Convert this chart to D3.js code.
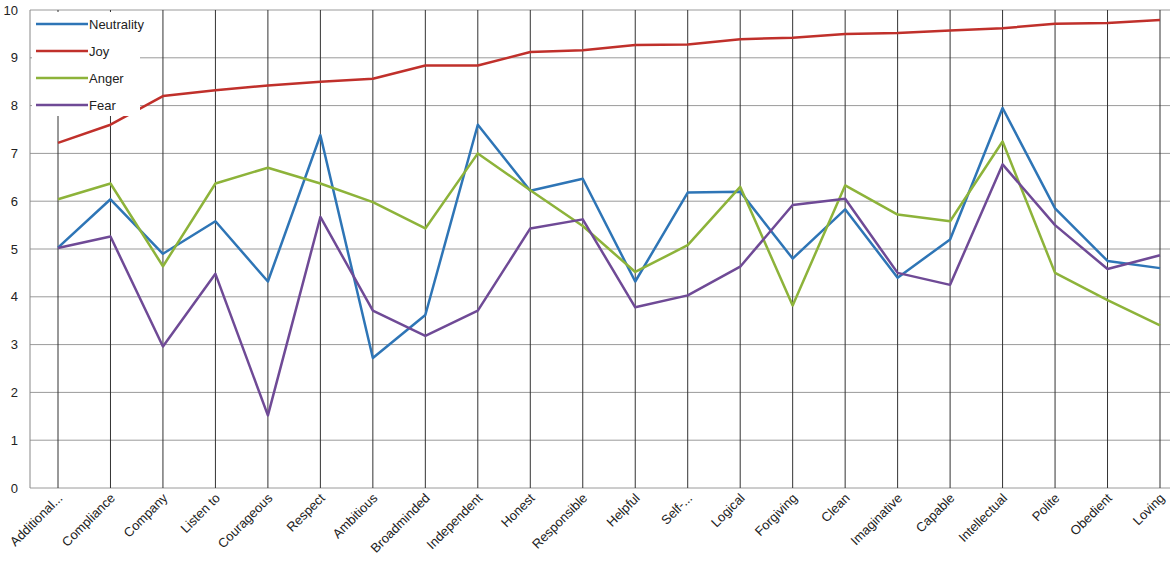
<!DOCTYPE html>
<html><head><meta charset="utf-8">
<script src="https://cdn.jsdelivr.net/npm/d3@7"></script>
<style>body{margin:0;background:#fff;font-family:"Liberation Sans",Arial,sans-serif}</style>
</head><body><svg id="chart" width="1170" height="569"></svg>
<script>
var categories = ["Additional...","Compliance","Company","Listen to","Courageous","Respect","Ambitious","Broadminded","Independent","Honest","Responsible","Helpful","Self-...","Logical","Forgiving","Clean","Imaginative","Capable","Intellectual","Polite","Obedient","Loving"];
var neutrality = [5.03,6.04,4.9,5.58,4.32,7.38,2.72,3.62,7.6,6.22,6.47,4.32,6.18,6.2,4.8,5.83,4.4,5.2,7.95,5.85,4.75,4.6];
var joy = [7.22,7.6,8.2,8.32,8.42,8.5,8.56,8.84,8.84,9.12,9.16,9.27,9.28,9.39,9.42,9.5,9.52,9.57,9.62,9.71,9.73,9.79];
var anger = [6.04,6.37,4.64,6.37,6.7,6.37,5.98,5.43,7.0,6.23,5.48,4.52,5.08,6.3,3.82,6.33,5.72,5.58,7.25,4.5,3.93,3.4];
var fear = [5.02,5.26,2.96,4.48,1.52,5.67,3.71,3.18,3.71,5.43,5.62,3.78,4.03,4.63,5.92,6.05,4.5,4.25,6.77,5.5,4.58,4.87];
var yTicks = [0,1,2,3,4,5,6,7,8,9,10];

var series = [
  {name:"Neutrality", values:neutrality, color:"#2e75b6"},
  {name:"Joy", values:joy, color:"#c0302b"},
  {name:"Anger", values:anger, color:"#8db33a"},
  {name:"Fear", values:fear, color:"#6f4a96"}
];

var svg = d3.select("#chart");
var x = d3.scalePoint().domain(categories).range([58,1160]);
var y = d3.scaleLinear().domain([0,10]).range([488,10]);

// horizontal gridlines
svg.append("g").selectAll("line").data(yTicks).enter().append("line")
  .attr("x1",30).attr("x2",1170).attr("y1",d=>y(d)).attr("y2",d=>y(d))
  .attr("stroke","#9a9a9a").attr("stroke-width",1);
// vertical category lines
svg.append("g").selectAll("line").data(categories).enter().append("line")
  .attr("x1",d=>x(d)).attr("x2",d=>x(d)).attr("y1",y(10)).attr("y2",y(0))
  .attr("stroke","#333").attr("stroke-width",1);
svg.append("line").attr("x1",30).attr("x2",30).attr("y1",y(10)).attr("y2",y(0)).attr("stroke","#888");

var yAxis = svg.append("g").attr("transform","translate(30,0)")
  .call(d3.axisLeft(y).tickValues(yTicks).tickSize(0).tickPadding(12));
yAxis.select(".domain").remove();
yAxis.selectAll("text").attr("font-size",13).attr("fill","#222").attr("font-family","Liberation Sans,Arial");

var xAxis = svg.append("g").attr("transform","translate(0,"+y(0)+")")
  .call(d3.axisBottom(x).tickSize(0));
xAxis.select(".domain").remove();
xAxis.selectAll("text").attr("font-size",13).attr("fill","#222").attr("font-family","Liberation Sans,Arial")
  .attr("text-anchor","end").attr("dy","0.3em").attr("transform","translate(0,6) rotate(-45)");

var line = d3.line().x((d,i)=>x(categories[i])).y(d=>y(d));
svg.append("g").selectAll("path").data(series).enter().append("path")
  .attr("d",d=>line(d.values)).attr("fill","none")
  .attr("stroke",d=>d.color).attr("stroke-width",2.5).attr("stroke-linejoin","round");

svg.append("rect").attr("x",32).attr("y",12).attr("width",108).attr("height",104).attr("fill","#fff");
var leg = svg.append("g").selectAll("g").data(series).enter().append("g")
  .attr("transform",(d,i)=>"translate(36,"+(24+i*27)+")");
leg.append("line").attr("x1",0).attr("x2",52).attr("stroke",d=>d.color).attr("stroke-width",2.5);
leg.append("text").attr("x",53).attr("dy","0.35em").attr("font-size",13).attr("fill","#222").text(d=>d.name);
</script></body></html>
